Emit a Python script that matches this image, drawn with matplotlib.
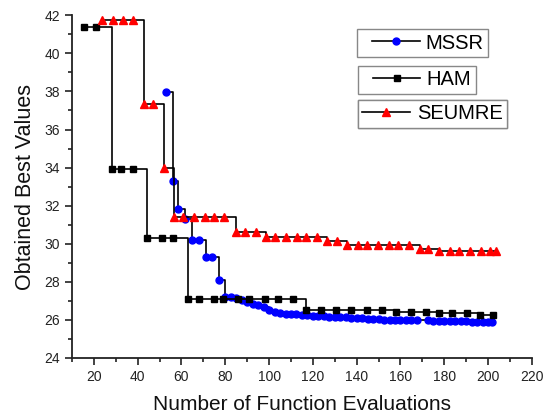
import numpy as np
import matplotlib
matplotlib.use("Agg")
import matplotlib.pyplot as plt
from matplotlib.ticker import MultipleLocator
from matplotlib.legend_handler import HandlerLine2D

plt.rcParams['font.family'] = ['Liberation Sans', 'DejaVu Sans']

# data
mssr_x = [53, 56, 58.5, 61.7, 65, 68, 71, 74, 77,
          80, 82.5, 85, 87.5, 90, 92.5, 95, 97.5, 100, 102.5,
          105, 107.5, 110, 112.5, 115, 117.5, 120, 122.5, 125, 127.5,
          130, 132.5, 135, 137.5, 140, 142.5, 145, 147.5, 150, 152.5,
          155, 157.5, 160, 162.5, 165, 167.5, 172.4, 175, 177.5, 180,
          182.5, 185, 187.5, 190, 192.5, 195, 197.5, 200, 202]
mssr_y = [37.95, 33.28, 31.84, 31.3, 30.2, 30.2, 29.28, 29.28, 28.09,
          27.2, 27.2, 27.15, 27.05, 26.95, 26.85, 26.75, 26.65, 26.5, 26.42,
          26.36, 26.32, 26.3, 26.28, 26.26, 26.24, 26.22, 26.2, 26.18, 26.15,
          26.13, 26.12, 26.12, 26.11, 26.1, 26.08, 26.06, 26.04, 26.02, 26.0,
          25.99, 25.98, 25.98, 25.97, 25.97, 25.96, 25.96, 25.95, 25.94, 25.93,
          25.92, 25.92, 25.91, 25.91, 25.9, 25.9, 25.89, 25.89, 25.88]

ham_x = [15.3, 21.2, 28.2, 32.3, 38, 44.1, 51.2, 56.2,
         63, 68.2, 75, 79.1, 86, 90.9, 98, 104, 110.8,
         117, 123.6, 130.7, 137.5, 144.6, 151.4,
         157.8, 164.6, 171.5, 177.5, 183.6, 190.4, 196.5, 202.4]
ham_y = [41.38, 41.38, 33.95, 33.95, 33.95, 30.28, 30.28, 30.28,
         27.09, 27.09, 27.09, 27.09, 27.09, 27.09, 27.09, 27.09, 27.09,
         26.51, 26.51, 26.51, 26.51, 26.51, 26.51,
         26.42, 26.42, 26.42, 26.33, 26.33, 26.33, 26.24, 26.24]

seumre_x = [23.9, 28.9, 33.1, 38, 43, 47, 51.9,
            56.6, 60.8, 65.7, 70.7, 74.8, 79.6, 84.9, 89.1, 94,
            98.8, 102.9, 107.8, 112.9, 116.9, 121.7, 126.5, 130.8,
            135.7, 140.5, 144.8, 149.8, 154.7, 158.9, 163.8, 168.8, 172.6,
            177.5, 182.5, 186.6, 191.6, 196.6, 200.8, 203.8]
seumre_y = [41.75, 41.75, 41.75, 41.75, 37.34, 37.34, 34.0,
            31.42, 31.42, 31.42, 31.42, 31.42, 31.42, 30.63, 30.63, 30.63,
            30.33, 30.33, 30.33, 30.33, 30.33, 30.33, 30.15, 30.15,
            29.93, 29.93, 29.93, 29.93, 29.93, 29.93, 29.93, 29.72, 29.72,
            29.6, 29.6, 29.6, 29.6, 29.6, 29.6, 29.6]

fig = plt.figure(figsize=(5.45, 4.16), dpi=100)
ax = fig.add_axes([0.132, 0.140, 0.844, 0.823])

l1, = ax.plot(mssr_x, mssr_y, drawstyle='steps-post', color='black', lw=1.2,
              marker='o', ms=5, mfc='#0000ff', mec='#0000ff', label='MSSR', zorder=2)
l2, = ax.plot(ham_x, ham_y, drawstyle='steps-post', color='black', lw=1.2,
              marker='s', ms=4.5, mfc='black', mec='black', label='HAM', zorder=3)
l3, = ax.plot(seumre_x, seumre_y, drawstyle='steps-post', color='black', lw=1.2,
              marker='^', ms=6, mfc='#ff0000', mec='#ff0000', label='SEUMRE', zorder=4)

ax.set_xlim(10, 220)
ax.set_ylim(24, 42)
ax.xaxis.set_major_locator(MultipleLocator(20))
ax.xaxis.set_minor_locator(MultipleLocator(10))
ax.yaxis.set_major_locator(MultipleLocator(2))
ax.yaxis.set_minor_locator(MultipleLocator(1))
ax.set_xticks(np.arange(20, 221, 20))

for s in ['top', 'right']:
    ax.spines[s].set_visible(False)
for s in ['left', 'bottom']:
    ax.spines[s].set_linewidth(1.3)
    ax.spines[s].set_color('#222222')

ax.tick_params(which='major', direction='out', length=5, width=1.2,
               labelsize=10, colors='#222222')
ax.tick_params(which='minor', direction='out', length=3, width=1.2, colors='#222222')

ax.set_xlabel('Number of Function Evaluations', fontsize=15, color='#111111', labelpad=8)
ax.set_ylabel('Obtained Best Values', fontsize=15.5, color='#111111', labelpad=6)

# three separate legend boxes: (line, anchor, handle pad, handle length, text pad)
boxes = [(l1, (0.62, 0.96), 0.51, 2.89, 0.30),
         (l2, (0.622, 0.853), 0.53, 2.86, 0.33),
         (l3, (0.622, 0.753), 0.0, 2.36, 0.33)]
for line, anc, xpad, hlen, tpad in boxes:
    leg = ax.legend(handles=[line], loc='upper left', bbox_to_anchor=anc,
                    borderaxespad=0, fontsize=14.5, fancybox=False,
                    edgecolor='#888888', framealpha=1, handlelength=hlen,
                    borderpad=0.22, handletextpad=tpad,
                    handler_map={line: HandlerLine2D(xpad=xpad)})
    leg.get_frame().set_linewidth(1.0)
    ax.add_artist(leg)

fig.savefig('out.png', dpi=100)
